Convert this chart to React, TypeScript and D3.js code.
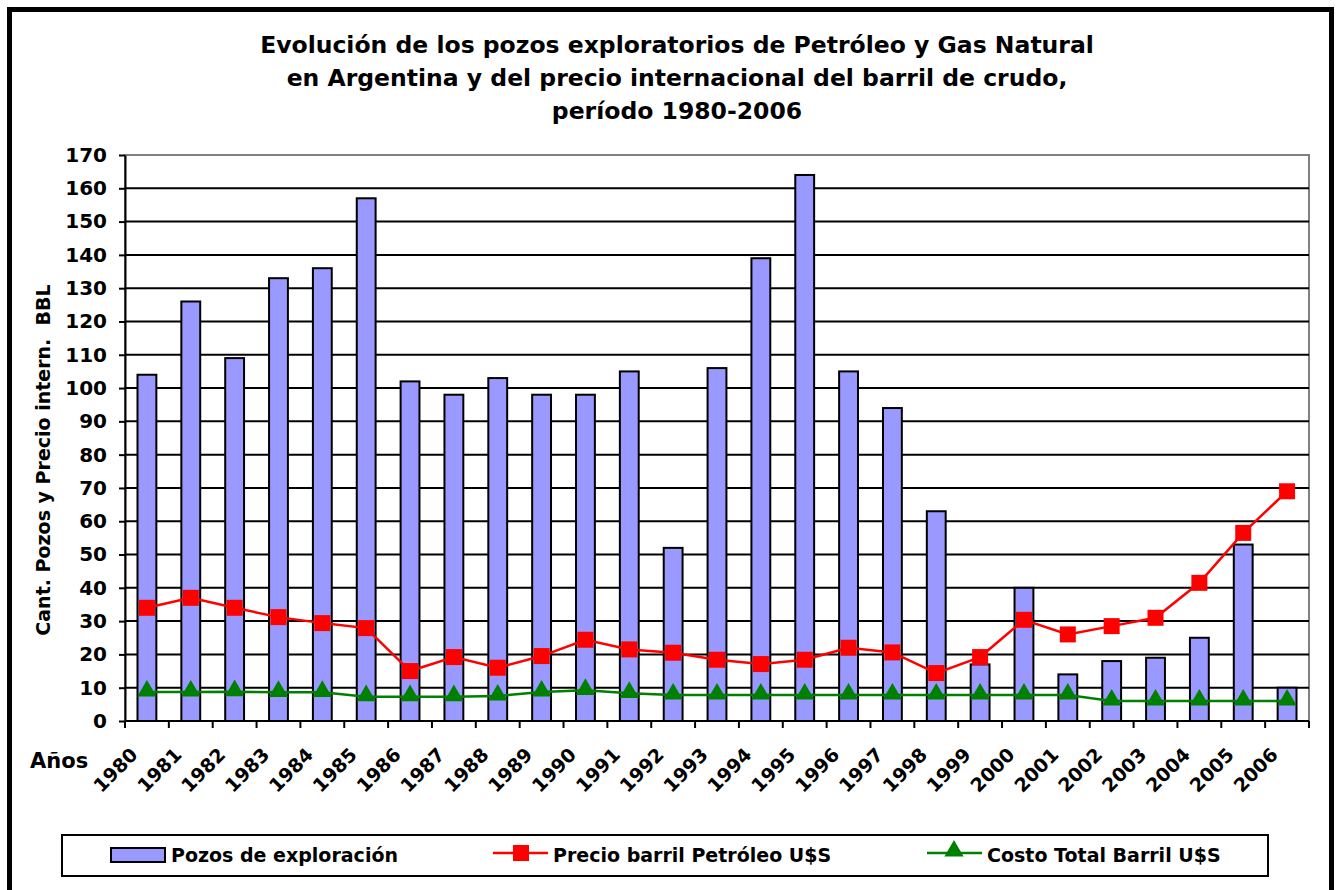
import React, { useRef, useEffect } from 'react';
import * as d3 from 'd3';

const years = [
  '1980', '1981', '1982', '1983', '1984', '1985', '1986', '1987', '1988',
  '1989', '1990', '1991', '1992', '1993', '1994', '1995', '1996', '1997',
  '1998', '1999', '2000', '2001', '2002', '2003', '2004', '2005', '2006',
];

// Pozos de exploración
const pozos = [
  104, 126, 109, 133, 136, 157, 102, 98, 103, 98, 98, 105, 52, 106, 139,
  164, 105, 94, 63, 17, 40, 14, 18, 19, 25, 53, 10,
];

// Precio barril Petróleo U$S
const precio = [
  34, 37, 34, 31.2, 29.4, 27.9, 15, 19.2, 16, 19.5, 24.4, 21.5, 20.5, 18.4,
  17.1, 18.4, 22, 20.6, 14.4, 19.2, 30.4, 26, 28.5, 31, 41.5, 56.5, 69,
];

// Costo Total Barril U$S
const costo = [
  8.7, 8.7, 8.8, 8.6, 8.6, 7.3, 7.3, 7.3, 7.5, 8.7, 9.2, 8.3, 7.8, 7.8, 7.8,
  7.8, 7.8, 7.8, 7.8, 7.8, 7.8, 7.8, 6, 6, 6, 6, 6,
];

const yTicks = d3.range(0, 171, 10);

const titleLines = [
  'Evolución de los pozos exploratorios de Petróleo y Gas Natural',
  'en Argentina y del precio internacional del barril de crudo,',
  'período 1980-2006',
];

const legendItems = [
  { label: 'Pozos de exploración', kind: 'bar' },
  { label: 'Precio barril Petróleo U$S', kind: 'square' },
  { label: 'Costo Total Barril U$S', kind: 'triangle' },
];

const FONT = '"DejaVu Sans", Verdana, sans-serif';
const BAR_COLOR = '#9999FF';
const RED = '#FF0000';
const GREEN = '#008000';

const App: React.FC = () => {
  const ref = useRef<SVGSVGElement | null>(null);

  useEffect(() => {
    if (!ref.current) return;
    const svg = d3.select(ref.current);
    svg.selectAll('*').remove();

    const width = 1336;
    const height = 890;
    const plot = { left: 125, right: 1309, top: 155, bottom: 721 };

    svg.attr('width', width).attr('height', height)
      .style('font-family', FONT);

    svg.append('rect')
      .attr('width', width).attr('height', height).attr('fill', '#fff');

    // Outer chart border
    svg.append('rect')
      .attr('x', 9.5).attr('y', 9.5)
      .attr('width', 1322).attr('height', 920)
      .attr('fill', 'none').attr('stroke', '#000').attr('stroke-width', 5);

    // Title
    svg.append('g')
      .selectAll('text')
      .data(titleLines)
      .join('text')
      .attr('x', 677)
      .attr('y', (_, i) => 53 + i * 33)
      .attr('text-anchor', 'middle')
      .attr('font-weight', 'bold')
      .attr('font-size', 23.5)
      .text(d => d);

    const x = d3.scaleBand<string>()
      .domain(years)
      .range([plot.left, plot.right])
      .padding(0);

    const y = d3.scaleLinear()
      .domain([0, 170])
      .range([plot.bottom, plot.top]);

    const barW = x.bandwidth() * 0.43;
    const cx = (d: string) => (x(d) || 0) + x.bandwidth() / 2;

    // Plot area border (grey top / right)
    svg.append('rect')
      .attr('x', plot.left).attr('y', plot.top)
      .attr('width', plot.right - plot.left).attr('height', plot.bottom - plot.top)
      .attr('fill', '#fff').attr('stroke', '#808080').attr('stroke-width', 2);

    // Gridlines
    svg.append('g')
      .selectAll('line')
      .data(yTicks.filter(t => t > 0 && t < 170))
      .join('line')
      .attr('x1', plot.left).attr('x2', plot.right)
      .attr('y1', d => y(d)).attr('y2', d => y(d))
      .attr('stroke', '#000').attr('stroke-width', 2);

    // Bars
    svg.append('g')
      .selectAll('rect')
      .data(years)
      .join('rect')
      .attr('x', d => cx(d) - barW / 2)
      .attr('y', (_, i) => y(pozos[i]))
      .attr('width', barW)
      .attr('height', (_, i) => plot.bottom - y(pozos[i]))
      .attr('fill', BAR_COLOR)
      .attr('stroke', '#000')
      .attr('stroke-width', 2);

    // Y axis
    const yAxis = svg.append('g')
      .attr('transform', `translate(${plot.left},0)`)
      .call(d3.axisLeft(y).tickValues(yTicks).tickSize(6).tickPadding(12).tickSizeOuter(0));
    yAxis.select('.domain').attr('stroke', '#000').attr('stroke-width', 2);
    yAxis.selectAll('.tick line').attr('stroke', '#000').attr('stroke-width', 2);
    yAxis.selectAll('.tick text')
      .attr('font-family', FONT)
      .attr('font-size', 20)
      .attr('font-weight', 'bold')
      .attr('fill', '#000');

    // X axis
    const xTickPos = years.map(d => x(d) || 0).concat([plot.right]);
    svg.append('line')
      .attr('x1', plot.left).attr('x2', plot.right)
      .attr('y1', plot.bottom).attr('y2', plot.bottom)
      .attr('stroke', '#000').attr('stroke-width', 2);
    svg.append('g')
      .selectAll('line')
      .data(xTickPos)
      .join('line')
      .attr('x1', d => d).attr('x2', d => d)
      .attr('y1', plot.bottom).attr('y2', plot.bottom + 7)
      .attr('stroke', '#000').attr('stroke-width', 2);

    svg.append('g')
      .selectAll('text')
      .data(years)
      .join('text')
      .attr('transform', d => `translate(${cx(d) - 8},${plot.bottom + 35}) rotate(-45)`)
      .attr('text-anchor', 'end')
      .attr('font-size', 19)
      .attr('font-weight', 'bold')
      .text(d => d);

    svg.append('text')
      .attr('x', 30).attr('y', 768)
      .attr('font-size', 21)
      .attr('font-weight', 'bold')
      .text('Años');

    // Y title
    svg.append('text')
      .attr('transform', 'translate(50,460) rotate(-90)')
      .attr('text-anchor', 'middle')
      .attr('font-size', 19)
      .attr('font-weight', 'bold')
      .style('white-space', 'pre')
      .text('Cant. Pozos y Precio intern.  BBL');

    // Lines
    const line = d3.line<number>()
      .x((_, i) => cx(years[i]))
      .y(d => y(d));

    svg.append('path')
      .datum(costo)
      .attr('d', line)
      .attr('fill', 'none').attr('stroke', GREEN).attr('stroke-width', 2.5);

    const tri = d3.symbol().type(d3.symbolTriangle).size(160);
    svg.append('g')
      .selectAll('path')
      .data(costo)
      .join('path')
      .attr('d', tri)
      .attr('transform', (d, i) => `translate(${cx(years[i])},${y(d) - 1})`)
      .attr('fill', GREEN);

    svg.append('path')
      .datum(precio)
      .attr('d', line)
      .attr('fill', 'none').attr('stroke', RED).attr('stroke-width', 2.5);

    svg.append('g')
      .selectAll('rect')
      .data(precio)
      .join('rect')
      .attr('x', (_, i) => cx(years[i]) - 8)
      .attr('y', d => y(d) - 8)
      .attr('width', 16).attr('height', 16)
      .attr('fill', RED);

    // Legend
    const lg = svg.append('g');
    lg.append('rect')
      .attr('x', 62).attr('y', 835)
      .attr('width', 1206).attr('height', 41)
      .attr('fill', '#fff').attr('stroke', '#000').attr('stroke-width', 2);

    const lx = [111, 493, 927];
    const ly = 855;
    legendItems.forEach((item, i) => {
      const g = lg.append('g');
      if (item.kind === 'bar') {
        g.append('rect')
          .attr('x', lx[i]).attr('y', ly - 7)
          .attr('width', 54).attr('height', 14)
          .attr('fill', BAR_COLOR).attr('stroke', '#000').attr('stroke-width', 2);
      } else {
        const color = item.kind === 'square' ? RED : GREEN;
        g.append('line')
          .attr('x1', lx[i]).attr('x2', lx[i] + 55)
          .attr('y1', ly - 2).attr('y2', ly - 2)
          .attr('stroke', color).attr('stroke-width', 2.5);
        if (item.kind === 'square') {
          g.append('rect')
            .attr('x', lx[i] + 20).attr('y', ly - 10)
            .attr('width', 16).attr('height', 16)
            .attr('fill', RED);
        } else {
          g.append('path')
            .attr('d', tri)
            .attr('transform', `translate(${lx[i] + 27},${ly - 4})`)
            .attr('fill', GREEN);
        }
      }
      g.append('text')
        .attr('x', lx[i] + 60)
        .attr('y', ly + 7)
        .attr('font-size', 19)
        .attr('font-weight', 'bold')
        .text(item.label);
    });
  }, []);

  return (
    <svg ref={ref} style={{ position: 'absolute', left: 0, top: 0, display: 'block' }} />
  );
};

export default App;
